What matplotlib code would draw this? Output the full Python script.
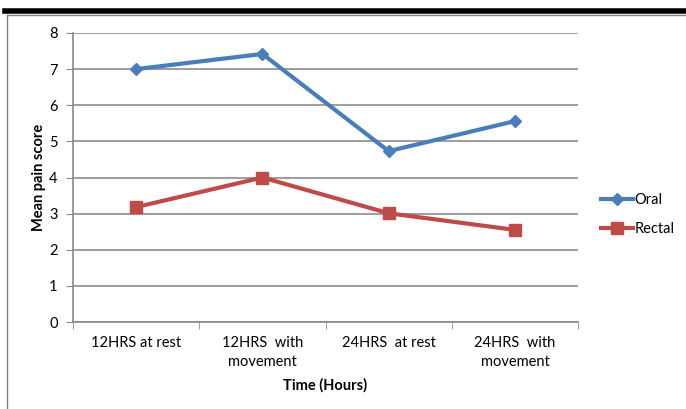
import matplotlib.pyplot as plt
from matplotlib.lines import Line2D

categories = ['12HRS at rest', '12HRS  with\nmovement', '24HRS  at rest', '24HRS  with\nmovement']
oral = [7.0, 7.42, 4.73, 5.56]
rectal = [3.18, 4.0, 3.01, 2.55]

plt.rcParams['font.family'] = ['Lato', 'DejaVu Sans']

fig = plt.figure(figsize=(6.86, 4.09), dpi=100)
ax = fig.add_axes([73 / 686, 1 - 322 / 409, 505 / 686, 289 / 409])

x = range(len(categories))
ax.plot(x, oral, color='#4A7EBB', lw=3, marker='D', ms=6, label='Oral')
ax.plot(x, rectal, color='#BE4B48', lw=3, marker='s', ms=8, label='Rectal')

ax.set_xlim(-0.5, len(categories) - 0.5)
ax.set_ylim(0, 8)
ax.set_yticks(range(0, 9))
ax.set_xticks(list(x))
ax.set_xticklabels(categories, fontsize=10.5, linespacing=1.5)
ax.set_xticks([i - 0.5 for i in range(len(categories) + 1)], minor=True)
ax.tick_params(axis='x', which='major', length=0, pad=10)
ax.tick_params(axis='x', which='minor', length=5, color='#888888')
ax.tick_params(axis='y', length=5, color='#888888', labelsize=10.5, pad=6)
ax.grid(axis='y', color='#8c8c8c', lw=1.2)
ax.set_axisbelow(True)
for s in ['top', 'right']:
    ax.spines[s].set_visible(False)
for s in ['left', 'bottom']:
    ax.spines[s].set_color('#888888')
    ax.spines[s].set_linewidth(1.2)

ax.set_xlabel('Time (Hours)', fontsize=10.5, fontweight='bold', labelpad=6)
ax.set_ylabel('Mean pain score', fontsize=10.5, fontweight='bold', labelpad=2)

ax.legend(loc='center left', bbox_to_anchor=(1.02, 0.372), frameon=False,
          fontsize=10.5, handlelength=2.2, handletextpad=0.1, labelspacing=1.0)

# page frame
fig.add_artist(Line2D([5 / 686, 1], [1 - 10.5 / 409] * 2, color='black', lw=4))
fig.add_artist(Line2D([7 / 686, 1], [1 - 15 / 409] * 2, color='#808080', lw=1))
fig.add_artist(Line2D([7 / 686] * 2, [0, 1 - 15 / 409], color='#808080', lw=1))

fig.savefig('out.png', dpi=100)
